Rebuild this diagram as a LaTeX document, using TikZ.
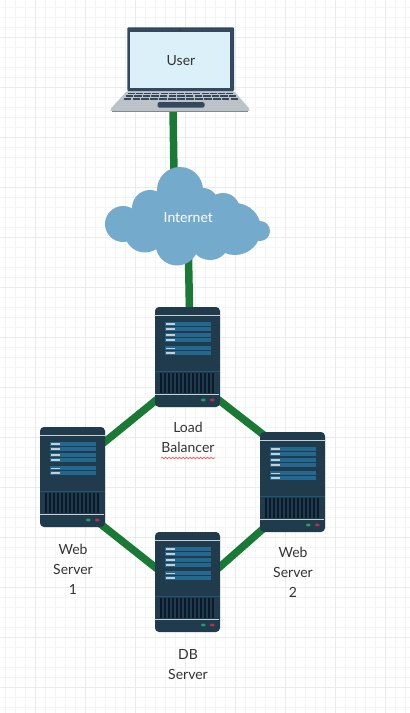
\documentclass[tikz,border=0pt]{standalone}
\usepackage{fontspec}
\setmainfont{Lato}
\usetikzlibrary{decorations.pathmorphing}
\definecolor{linkgreen}{HTML}{1A7A35}
\definecolor{srvbody}{HTML}{203B4C}
\definecolor{srvbar}{HTML}{24678F}
\definecolor{srvvent}{HTML}{0B1A2A}
\definecolor{srvline}{HTML}{C5D0D6}
\definecolor{ledg}{HTML}{2A9A6B}
\definecolor{ledr}{HTML}{B5304F}
\definecolor{cloudblue}{HTML}{74AACB}
\definecolor{lapdark}{HTML}{34495E}
\definecolor{lapscreen}{HTML}{DCF0FA}
\definecolor{lapbase}{HTML}{BBC3C9}
\definecolor{labeltext}{HTML}{333333}
\definecolor{gridminor}{HTML}{F4F4F4}
\definecolor{gridmajor}{HTML}{EBEBEB}
\tikzset{
  x=1pt,y=-1pt,
  link/.style={draw=linkgreen,line width=7.5pt},
  servernode/.style={inner sep=0pt,outer sep=0pt,minimum width=65pt,minimum height=100pt,draw=none},
  caption/.style={text=labeltext,font=\fontsize{14}{20}\selectfont,align=center,inner sep=0pt},
  server/.pic={
    \fill[srvbody,rounded corners=4pt] (-32.5,-50) rectangle (32.5,50);
    \fill[srvline] (-32.5,-41.8) rectangle (32.5,-40.8);
    \foreach \yy in {-33,-28,-22,-17,-8.7,-4}{
      \fill[srvbar] (-23,\yy-2) rectangle (23.5,\yy+2);
    }
    \foreach \yy in {-33,-28,-22,-17,-8.7,-4}{
      \fill[srvline] (-22,\yy-.8) rectangle (-13,\yy+.8);
    }
    \fill[srvbar!60!srvbody] (-32.5,14) rectangle (32.5,15);
    \fill[srvvent] (-27.5,15.7) rectangle (27,35.7);
    \foreach \k in {0,...,13}{
      \fill[srvbody] (-25.2+\k*4,15.7) rectangle (-23.9+\k*4,35.7);
    }
    \fill[srvline] (-32.5,36.9) rectangle (31.5,37.9);
    \fill[ledg] (15.8,43) ellipse[x radius=2.3pt,y radius=1.5pt];
    \fill[ledr] (24.8,43) ellipse[x radius=2.3pt,y radius=1.5pt];
  }
}
\begin{document}
\begin{tikzpicture}
\useasboundingbox (0,0) rectangle (410,713);
\fill[white] (0,0) rectangle (410,713);
% grid
\foreach \gx in {5,15,...,405}{\draw[gridminor,line width=.7pt] (\gx,0) -- (\gx,713);}
\foreach \gy in {7,17,...,707}{\draw[gridminor,line width=.7pt] (0,\gy) -- (410,\gy);}
\foreach \gx in {35,85,...,385}{\draw[gridmajor,line width=.7pt] (\gx,0) -- (\gx,713);}
\foreach \gy in {37,87,...,687}{\draw[gridmajor,line width=.7pt] (0,\gy) -- (410,\gy);}

% named boxes of the devices
\node[inner sep=0pt,outer sep=0pt,minimum width=140pt,minimum height=85pt] (laptop) at (180,69.5) {};
\node[inner sep=0pt,outer sep=0pt,minimum width=165pt,minimum height=98pt] (inet) at (187.5,216.5) {};
\node[servernode] (lb) at (187.5,357) {};
\node[servernode] (ws1) at (72.5,477) {};
\node[servernode] (ws2) at (292.5,482) {};
\node[servernode] (db) at (187.5,582) {};

% connectors, under the devices
\draw[link] ([xshift=-7pt,yshift=4pt]laptop.south) -- ([xshift=-13.5pt,yshift=-8pt]inet.north);
\draw[link] ([xshift=1pt,yshift=8pt]inet.south) -- ([xshift=2pt,yshift=-3pt]lb.north);
\draw[link] ([xshift=2pt,yshift=7.6pt]lb.south west) -- ([xshift=-2pt,yshift=33.7pt]ws1.east);
\draw[link] ([xshift=-2pt,yshift=7.6pt]lb.south east) -- ([xshift=5pt,yshift=46pt]ws2.west);
\draw[link] ([xshift=-5pt,yshift=3.4pt]ws1.south east) -- ([xshift=2pt,yshift=13.3pt]db.west);
\draw[link] ([xshift=-2pt,yshift=13.5pt]db.east) -- ([xshift=4pt,yshift=4pt]ws2.south west);

% laptop
\fill[lapbase,rounded corners=1.5pt] (127,91) -- (234,91) -- (250,109.5) -- (249,111.5) -- (111,111.5) -- (110,109.5) -- cycle;
\fill[lapbase!70!black] (112,110.9) rectangle (248,111.7);
\fill[lapdark,rounded corners=1pt] (127.3,27.3) rectangle (234,91);
\fill[lapscreen] (129.5,32.3) rectangle (230,88.3);
\fill[lapdark!70!black] (180,29.8) circle (.8pt);
\foreach \rr/\xa/\xb in {93.5/127/234,96/125/237,99/123/239}{
  \foreach \k in {0,...,12}{
    \pgfmathsetmacro{\wd}{(\xb-\xa)/13}
    \fill[lapdark] (\xa+\k*\wd+.6,\rr-.9) rectangle (\xa+\k*\wd+\wd-.6,\rr+.9);
  }
}
\fill[lapdark,rounded corners=1.5pt] (157.5,102) rectangle (204.5,107.5);
\node[text=labeltext,font=\fontsize{14}{16}\selectfont,inner sep=0pt] (usertext) at (181,60.7) {User};

% cloud
\foreach \cx/\cy/\cr in {180/190/23,123/224/18,150/208/18,145/232/20.5,177/244/21.5,210/240/20,235/229/26,223/210/17,203/203/15,260/231/10}{
  \fill[cloudblue] (\cx,\cy) circle (\cr);
}
\fill[cloudblue] (150,200) rectangle (225,240);
\fill[cloudblue] (130,215) rectangle (240,240);
\node[text=white,font=\fontsize{14}{16}\selectfont,inner sep=0pt] (inettext) at (188.3,217.6) {Internet};

% servers
\pic at (lb) {server};
\pic at (ws1) {server};
\pic at (ws2) {server};
\pic at (db) {server};

% labels
\node[caption] (lbl) at (188,437) {Load\\Balancer};
\node[caption] (ws1l) at (73,569) {Web\\Server\\1};
\node[caption] (ws2l) at (293,572) {Web\\Server\\2};
\node[caption] (dbl) at (188,665) {DB\\Server};
\draw[red!70!white,line width=.7pt,decorate,decoration={snake,amplitude=.7pt,segment length=3.5pt}] (161,458) -- (215,458);
\end{tikzpicture}
\end{document}
